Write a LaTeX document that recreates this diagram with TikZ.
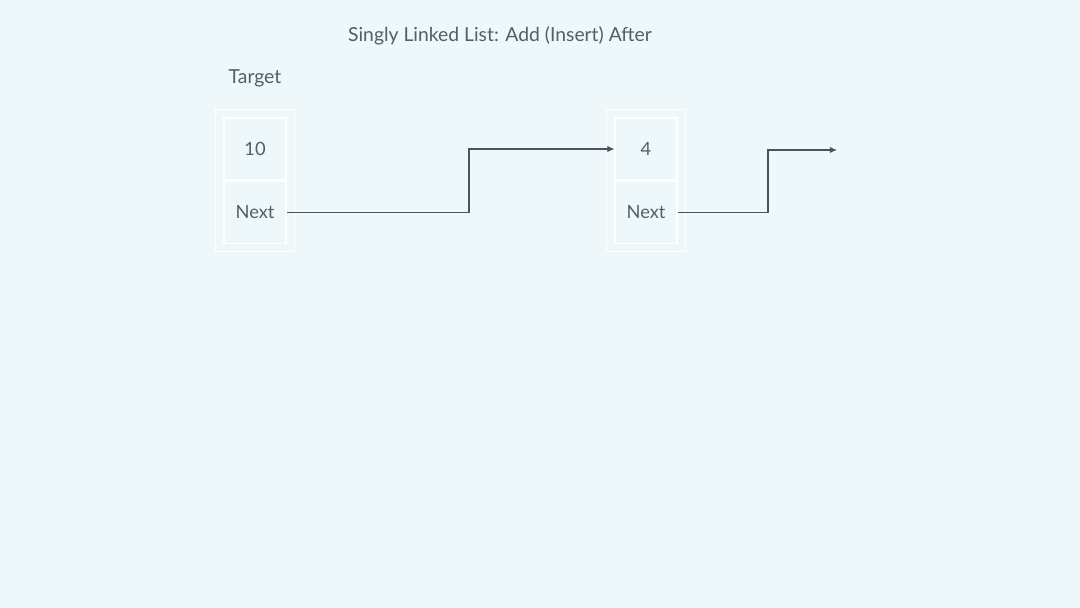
\documentclass[tikz,border=0pt]{standalone}
\usepackage{fontspec}
\setmainfont{Lato}
\usetikzlibrary{arrows.meta,positioning,fit}
\definecolor{bgcol}{HTML}{EEF7F9}
\definecolor{inkcol}{HTML}{4B5559}
\definecolor{txtcol}{HTML}{555E63}
\tikzset{font=\fontsize{11}{13}\selectfont}
\tikzstyle{cell}=[draw=white,line width=0.6pt,minimum width=1.24cm,minimum height=1.24cm,inner sep=0pt,text=txtcol,font=\fontsize{10.4}{12}\selectfont]
\tikzstyle{frame}=[draw=white,line width=0.6pt,inner sep=0.16cm]
\tikzstyle{link}=[draw=inkcol,line width=0.6pt,-{Latex[length=4pt,width=3.5pt]}]

\begin{document}
\begin{tikzpicture}[x=0.02cm,y=-0.02cm]
\fill[bgcol] (0,0) rectangle (1080,608);
\useasboundingbox (0,0) rectangle (1080,608);
\node[text=txtcol] (title) at (500,36) {Singly Linked List: Add (Insert) After};
\node[text=txtcol] (target) at (255,78) {Target};
% target node
\node[cell] (valA) at (255,149) {10};
\node[cell,below=0pt of valA] (nextA) {Next};
\node[frame,fit=(valA)(nextA)] (boxA) {};
% new node
\node[cell] (valB) at (646,149) {4};
\node[cell,below=0pt of valB] (nextB) {Next};
\node[frame,fit=(valB)(nextB)] (boxB) {};
\coordinate (bendA) at (469,151);
\coordinate (bendB) at (768,150);
\coordinate (tail) at (837,150);
\path[link] (nextA.east) -| (bendA) |- (valB.west);
\path[link] (nextB.east) -| (bendB) -- (tail);
\end{tikzpicture}
\end{document}
